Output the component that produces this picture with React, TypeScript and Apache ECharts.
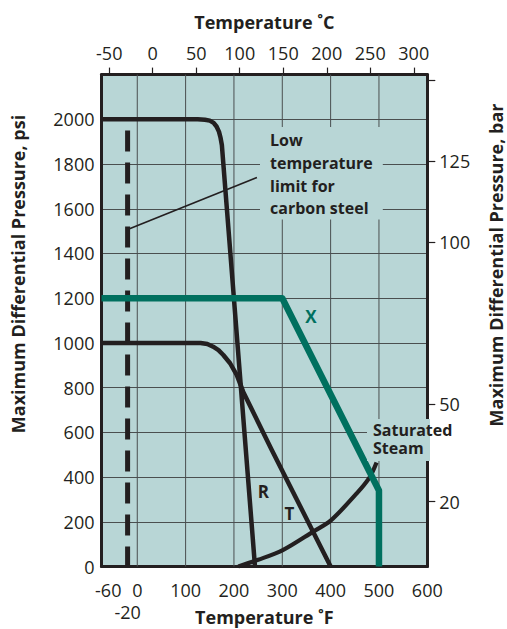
import React, { useEffect, useRef } from 'react';
import * as echarts from 'echarts';

// ---- scales ----
const F_MIN = -74;
const F_MAX = 600;
const PSI_MAX = 2200;
const PSI_STEP = 200;
const PSI_PER_BAR = 14.5038;
const fToC = (f: number) => (f - 32) / 1.8;

// ---- tick labels ----
const fahrenheitLabels = [-60, 0, 100, 200, 300, 400, 500, 600];
const fahrenheitSecondRow = [-20];
const celsiusLabels = [-50, 0, 50, 100, 150, 200, 250, 300];
const barTicks = [20, 50, 100, 125, 150];
const barLabels = [20, 50, 100, 125];
const verticalGridF = [0, 100, 200, 300, 400, 500];

// ---- series (°F, psi) ----
const curveR = [
  [-74, 2000], [125, 2000], [140, 1998], [150, 1994], [158, 1984], [164, 1968],
  [169, 1945], [172, 1920], [175, 1885], [243.5, 0],
];
const curveT = [
  [-74, 1000], [131, 1000], [145, 995], [157, 983], [168, 968], [178, 946],
  [192, 909], [206, 856], [219, 782], [278, 522], [400, 0],
];
const curveX = [[-74, 1200], [300, 1200], [500, 340], [500, 0]];
const saturatedSteam = [
  [209, 0], [250, 30], [300, 72], [364, 156], [400, 205], [454, 327], [481, 400], [495, 465],
];
const lowTempLimit = [[-20, 1950], [-20, 0]];
const leaderLine = [[-18.6, 1508], [247.6, 1740]];

const INK = '#231f20';
const GREEN = '#00705f';
const BG = '#b8d6d6';
const GRID = '#4a4f50';
const FONT = '"Open Sans", "Noto Sans", sans-serif';

export default function App() {
  const ref = useRef<HTMLDivElement>(null);

  useEffect(() => {
    if (!ref.current) return;
    const chart = echarts.init(ref.current, null, { renderer: 'svg' });

    const lineSeries = (data: number[][], color: string, width: number, extra: any = {}) => {
      const { lineStyle, ...rest } = extra;
      return {
        type: 'line',
        data,
        xAxisIndex: 0,
        yAxisIndex: 0,
        symbol: 'none',
        showSymbol: false,
        silent: true,
        z: 3,
        ...rest,
        lineStyle: { color, width, join: 'round', ...(lineStyle || {}) },
      };
    };

    const gridSeries = verticalGridF.map((f) => ({
      type: 'line',
      data: [[f, 0], [f, PSI_MAX]],
      xAxisIndex: 0,
      yAxisIndex: 0,
      symbol: 'none',
      silent: true,
      z: 1,
      lineStyle: { color: GRID, width: 1 },
    }));

    const option: any = {
      animation: false,
      textStyle: { fontFamily: FONT },
      grid: {
        left: 101.5,
        right: 79.7,
        top: 74.6,
        bottom: 62.5,
        show: true,
        backgroundColor: BG,
        borderWidth: 0,
        containLabel: false,
        outerBoundsMode: 'none',
      },
      xAxis: [
        {
          type: 'value',
          position: 'bottom',
          min: F_MIN,
          max: F_MAX,
          axisLine: { show: true, onZero: false, lineStyle: { color: INK, width: 3 } },
          axisTick: { show: false },
          splitLine: { show: false },
          axisLabel: {
            customValues: fahrenheitLabels,
            fontSize: 18,
            color: INK,
            margin: 14,
          },
          name: 'Temperature ˚F',
          nameLocation: 'middle',
          nameGap: 41,
          nameMoveOverlap: false,
          nameTextStyle: { fontWeight: 'bold', fontSize: 18, color: INK },
        },
        {
          type: 'value',
          position: 'top',
          min: fToC(F_MIN),
          max: fToC(F_MAX),
          axisLine: { show: true, onZero: false, lineStyle: { color: INK, width: 3 } },
          axisTick: { show: true, customValues: celsiusLabels, length: 7, lineStyle: { color: INK, width: 1.2 } },
          splitLine: { show: false },
          axisLabel: { customValues: celsiusLabels, fontSize: 18, color: INK, margin: 13 },
          name: 'Temperature ˚C',
          nameLocation: 'middle',
          nameGap: 44,
          nameMoveOverlap: false,
          nameTextStyle: { fontWeight: 'bold', fontSize: 18, color: INK },
        },
        {
          type: 'value',
          position: 'bottom',
          offset: 22,
          min: F_MIN,
          max: F_MAX,
          axisLine: { show: false },
          axisTick: { show: false },
          splitLine: { show: false },
          axisLabel: {
            customValues: fahrenheitSecondRow,
            fontSize: 18,
            color: INK,
            margin: 14,
          },
        },
      ],
      yAxis: [
        {
          type: 'value',
          position: 'left',
          min: 0,
          max: PSI_MAX,
          interval: PSI_STEP,
          axisLine: { show: true, onZero: false, lineStyle: { color: INK, width: 3 } },
          axisTick: { show: false },
          axisLabel: {
            fontSize: 18,
            color: INK,
            margin: 7,
            formatter: (v: number) => (v >= PSI_MAX ? '' : String(v)),
          },
          splitLine: { show: true, lineStyle: { color: GRID, width: 1 } },
        },
        {
          type: 'value',
          position: 'right',
          min: 0,
          max: PSI_MAX / PSI_PER_BAR,
          axisLine: { show: true, onZero: false, lineStyle: { color: INK, width: 3 } },
          axisTick: { show: true, customValues: barTicks, length: 8, lineStyle: { color: INK, width: 1.2 } },
          axisLabel: { customValues: barLabels, fontSize: 18, color: INK, margin: 12 },
          splitLine: { show: false },
        },
      ],
      series: [
        ...gridSeries,
        lineSeries(leaderLine, INK, 1.6),
        lineSeries(lowTempLimit, INK, 5, { lineStyle: { type: [21, 11], cap: 'butt' } }),
        lineSeries(curveR, INK, 4.5),
        lineSeries(curveT, INK, 4.5),
        lineSeries(saturatedSteam, INK, 4.2, { smooth: 0.3 }),
        lineSeries(curveX, GREEN, 6.5),
      ],
      graphic: [
        {
          type: 'text',
          x: 18,
          y: 274,
          rotation: Math.PI / 2,
          z: 100,
          style: {
            text: 'Maximum Differential Pressure, psi',
            font: `bold 18px ${FONT}`,
            fill: INK,
            align: 'center',
            verticalAlign: 'middle',
          },
        },
        {
          type: 'text',
          x: 496,
          y: 265,
          rotation: Math.PI / 2,
          z: 100,
          style: {
            text: 'Maximum Differential Pressure, bar',
            font: `bold 18px ${FONT}`,
            fill: INK,
            align: 'center',
            verticalAlign: 'middle',
          },
        },
        {
          type: 'text',
          x: 260,
          y: 127,
          z: 100,
          style: {
            text: 'Low\ntemperature\nlimit for\ncarbon steel',
            font: `bold 16px ${FONT}`,
            lineHeight: 22.6,
            fill: INK,
            backgroundColor: BG,
            padding: [2, 10, 0, 10],
            align: 'left',
            verticalAlign: 'top',
          },
        },
        {
          type: 'rect',
          z: 99,
          shape: { x: 367, y: 419, width: 63, height: 42 },
          style: { fill: BG },
        },
        {
          type: 'text',
          x: 373,
          y: 421,
          z: 100,
          style: {
            text: 'Saturated\nSteam',
            font: `bold 16px ${FONT}`,
            lineHeight: 18,
            fill: INK,
            align: 'left',
            verticalAlign: 'top',
          },
        },
        {
          type: 'text', x: 311, y: 316, z: 100,
          style: { text: 'X', font: `bold 17px ${FONT}`, fill: GREEN, align: 'center', verticalAlign: 'middle' },
        },
        {
          type: 'text', x: 263.3, y: 491.7, z: 100,
          style: { text: 'R', font: `bold 17px ${FONT}`, fill: INK, align: 'center', verticalAlign: 'middle' },
        },
        {
          type: 'text', x: 289.3, y: 513.3, z: 100,
          style: { text: 'T', font: `bold 17px ${FONT}`, fill: INK, align: 'center', verticalAlign: 'middle' },
        },
      ],
    };

    chart.setOption(option);
    return () => chart.dispose();
  }, []);

  return (
    <div
      ref={ref}
      style={{ position: 'fixed', left: 0, top: 0, width: 507, height: 629, background: '#ffffff' }}
    />
  );
}
